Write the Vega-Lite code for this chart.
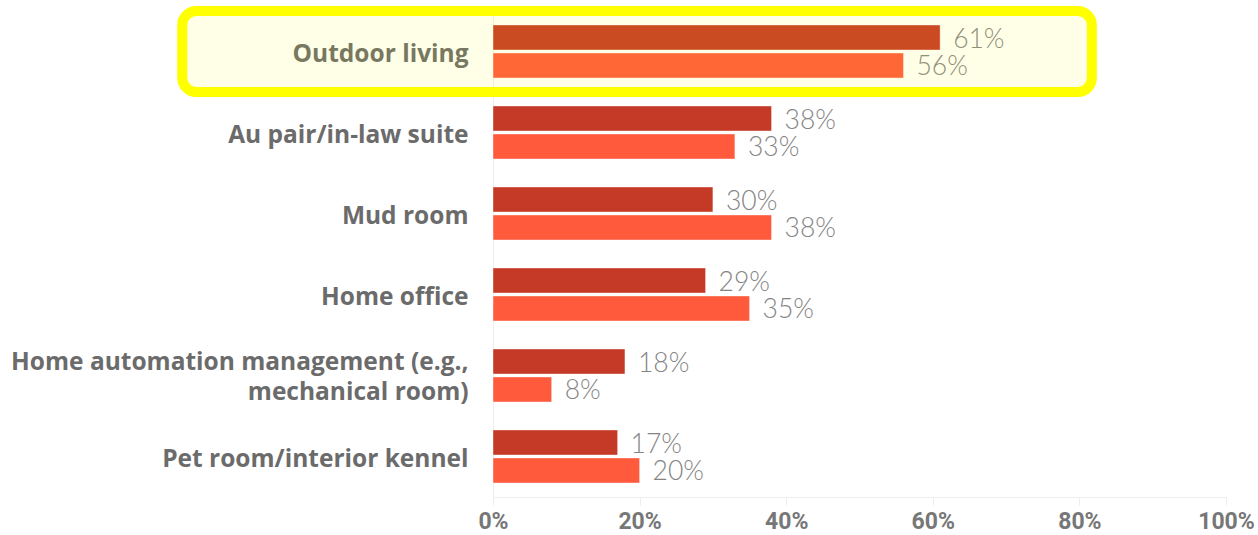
{
  "$schema": "https://vega.github.io/schema/vega-lite/v6.json",
  "width": 733,
  "height": 486,
  "autosize": "none",
  "padding": {"left": 493, "top": 11, "right": 32, "bottom": 38},
  "background": "white",
  "config": {"view": {"stroke": null}},
  "datasets": {
    "bars": [
      {"category": "Outdoor living", "series": "Series 1", "value": 0.61},
      {"category": "Outdoor living", "series": "Series 2", "value": 0.56},
      {"category": "Au pair/in-law suite", "series": "Series 1", "value": 0.38},
      {"category": "Au pair/in-law suite", "series": "Series 2", "value": 0.33},
      {"category": "Mud room", "series": "Series 1", "value": 0.30},
      {"category": "Mud room", "series": "Series 2", "value": 0.38},
      {"category": "Home office", "series": "Series 1", "value": 0.29},
      {"category": "Home office", "series": "Series 2", "value": 0.35},
      {"category": "Home automation management (e.g., mechanical room)", "series": "Series 1", "value": 0.18},
      {"category": "Home automation management (e.g., mechanical room)", "series": "Series 2", "value": 0.08},
      {"category": "Pet room/interior kennel", "series": "Series 1", "value": 0.17},
      {"category": "Pet room/interior kennel", "series": "Series 2", "value": 0.20}
    ],
    "highlight": [
      {"category": "Outdoor living", "start": -0.424, "end": 0.817}
    ]
  },
  "encoding": {
    "y": {
      "field": "category",
      "type": "nominal",
      "sort": null,
      "scale": {"paddingInner": 0, "paddingOuter": 0},
      "axis": {
        "title": null,
        "ticks": false,
        "domain": true,
        "domainColor": "#eeeeee",
        "labelFont": "Open Sans",
        "labelFontWeight": "bold",
        "labelFontSize": 24.5,
        "labelColor": "#6b6b6b",
        "labelPadding": 25,
        "labelLimit": 500,
        "labelLineHeight": 30,
        "labelOffset": {"condition": {"test": "datum.value == 'Home automation management (e.g., mechanical room)'", "value": -13}, "value": 3},
        "zindex": 0,
        "labelExpr": "datum.label == 'Home automation management (e.g., mechanical room)' ? ['Home automation management (e.g.,', 'mechanical room)'] : datum.label"
      }
    }
  },
  "layer": [
    {
      "data": {"name": "bars"},
      "mark": {"type": "bar", "stroke": "#ffffff", "strokeOpacity": 0.4, "strokeWidth": 1},
      "encoding": {
        "x": {
          "field": "value",
          "type": "quantitative",
          "scale": {"domain": [0, 1], "nice": false},
          "axis": {
            "title": null,
            "values": [0, 0.2, 0.4, 0.6, 0.8, 1],
            "format": ".0%",
            "grid": false,
            "domainColor": "#eeeeee",
            "tickColor": "#eeeeee",
            "tickSize": 8,
            "labelFont": "Roboto",
            "labelFontWeight": "bold",
            "labelFontSize": 23,
            "labelColor": "#777777",
            "labelPadding": 5,
            "labelFlush": false,
            "zindex": 0
          }
        },
        "yOffset": {
          "field": "series",
          "type": "nominal",
          "scale": {"paddingInner": 0.107, "paddingOuter": 0.5}
        },
        "color": {
          "field": "series",
          "type": "nominal",
          "scale": {"domain": ["Series 1", "Series 2"], "range": ["#c53a26", "#ff5a3c"]},
          "legend": null
        }
      }
    },
    {
      "data": {"name": "bars"},
      "mark": {
        "type": "text",
        "align": "left",
        "baseline": "middle",
        "dx": 13,
        "dy": 2,
        "font": "Lato",
        "fontWeight": 300,
        "fontSize": 26.5,
        "color": "#858585"
      },
      "encoding": {
        "x": {"field": "value", "type": "quantitative"},
        "yOffset": {"field": "series", "type": "nominal"},
        "text": {"field": "value", "type": "quantitative", "format": ".0%"}
      }
    },
    {
      "data": {"name": "highlight"},
      "mark": {
        "type": "rect",
        "fill": "#ffff00",
        "fillOpacity": 0.09,
        "stroke": "#ffff00",
        "strokeOpacity": 1,
        "strokeWidth": 10,
        "cornerRadius": 14
      },
      "encoding": {
        "x": {"field": "start", "type": "quantitative"},
        "x2": {"field": "end"}
      }
    }
  ]
}
